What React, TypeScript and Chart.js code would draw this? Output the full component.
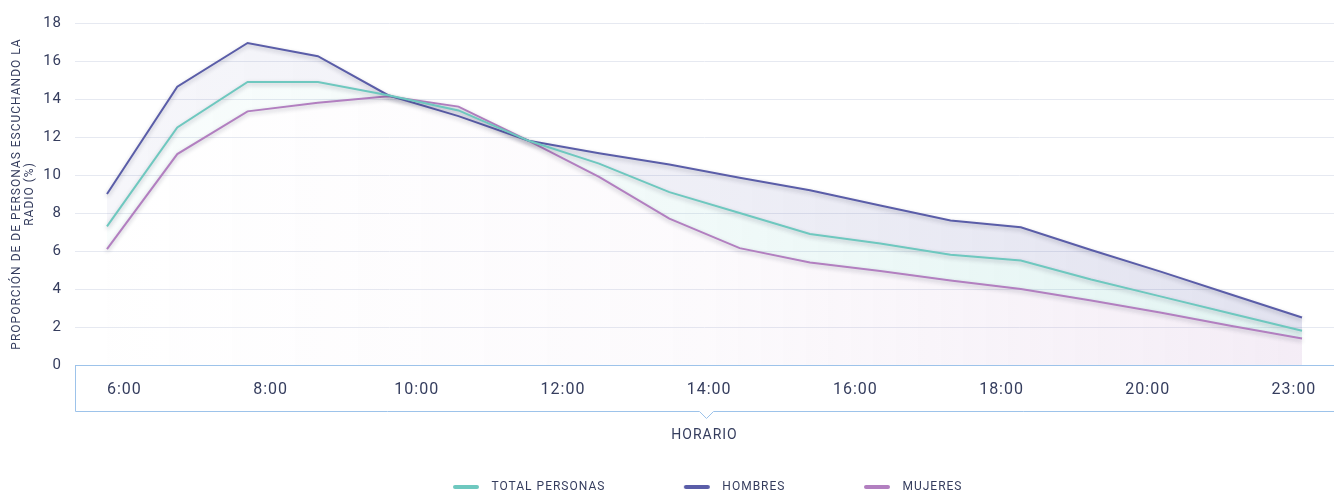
import React, { useEffect, useRef } from 'react';
import { Chart, registerables } from 'chart.js';

Chart.register(...registerables);

// Hourly categories of the data (6:00 .. 23:00)
const hours = ['6:00', '7:00', '8:00', '9:00', '10:00', '11:00', '12:00', '13:00', '14:00', '15:00', '16:00', '17:00', '18:00', '19:00', '20:00', '21:00', '22:00', '23:00'];

// Labels printed in the axis box
const tickLabels = ['6:00', '8:00', '10:00', '12:00', '14:00', '16:00', '18:00', '20:00', '23:00'];

const totalPersonas = [7.3, 12.5, 14.9, 14.9, 14.2, 13.4, 11.8, 10.6, 9.1, 8.0, 6.9, 6.4, 5.8, 5.5, 4.5, 3.6, 2.7, 1.8];
const hombres = [9.0, 14.65, 16.95, 16.25, 14.2, 13.1, 11.8, 11.15, 10.55, 9.85, 9.2, 8.4, 7.6, 7.25, 6.05, 4.9, 3.7, 2.5];
const mujeres = [6.1, 11.1, 13.35, 13.8, 14.15, 13.6, 11.8, 9.9, 7.7, 6.15, 5.4, 4.95, 4.45, 4.0, 3.4, 2.75, 2.05, 1.4];

const yTitle = ['PROPORCIÓN DE DE PERSONAS ESCUCHANDO LA', 'RADIO (%)'];
const xTitle = 'HORARIO';

const TEAL = '#6ec8bf';
const NAVY = '#5a5da8';
const PINK = '#b27fc0';
const TEXT = '#353d5e';
const GRID = '#e6e9f1';
const BOX = '#9dc3ea';
const FONT = 'Roboto';

const toPoints = (vals: number[]) => vals.map((y, i) => ({ x: i, y, hour: hours[i] }));

function makeMarker(color: string) {
  const c = document.createElement('canvas');
  c.width = 28;
  c.height = 6;
  const g = c.getContext('2d')!;
  g.strokeStyle = color;
  g.lineWidth = 4;
  g.lineCap = 'round';
  g.beginPath();
  g.moveTo(3, 3);
  g.lineTo(25, 3);
  g.stroke();
  return c;
}

function gradient(rgb: string, a0: number, aMid: number, a1: number) {
  return (ctx: any) => {
    const chart = ctx.chart;
    const area = chart.chartArea;
    if (!area) return `rgba(${rgb},${a1})`;
    const g = chart.ctx.createLinearGradient(area.left, 0, area.right, 0);
    g.addColorStop(0, `rgba(${rgb},${a0})`);
    g.addColorStop(0.5, `rgba(${rgb},${aMid})`);
    g.addColorStop(1, `rgba(${rgb},${a1})`);
    return g;
  };
}

const spacingPlugin = {
  id: 'letterSpacing',
  beforeUpdate(chart: any) { chart.ctx.letterSpacing = '1px'; },
  beforeLayout(chart: any) { chart.ctx.letterSpacing = '1px'; },
  beforeDraw(chart: any) { chart.ctx.letterSpacing = '1px'; },
};

const shadowPlugin = {
  id: 'lineShadow',
  beforeDatasetDraw(chart: any) {
    const c = chart.ctx;
    c.save();
    c.shadowColor = 'rgba(30,30,60,0.28)';
    c.shadowBlur = 4;
    c.shadowOffsetY = 2;
  },
  afterDatasetDraw(chart: any) {
    chart.ctx.restore();
  },
};

const boxPlugin = {
  id: 'axisBox',
  afterDraw(chart: any) {
    const s = chart.scales.x2;
    const c = chart.ctx;
    const top = s.top;
    const bottom = Math.round(s.top + 46) + 0.5;
    const left = Math.round(s.left) + 0.5;
    const right = s.right;
    const cx = Math.round((s.left + s.right) / 2) + 1.5;
    c.save();
    c.strokeStyle = BOX;
    c.lineWidth = 1;
    c.beginPath();
    c.moveTo(left, top);
    c.lineTo(left, bottom);
    c.lineTo(cx - 7, bottom);
    c.lineTo(cx, bottom + 7);
    c.lineTo(cx + 7, bottom);
    c.lineTo(right, bottom);
    c.stroke();
    c.restore();
  },
};

export default function App() {
  const ref = useRef<HTMLCanvasElement>(null);

  useEffect(() => {
    const canvas = ref.current!;
    const markers = [makeMarker(TEAL), makeMarker(NAVY), makeMarker(PINK)];
    const chart = new Chart(canvas, {
      type: 'line',
      data: {
        datasets: [
          {
            label: 'TOTAL PERSONAS',
            data: toPoints(totalPersonas),
            borderColor: TEAL,
            backgroundColor: gradient('110,200,191', 0.04, 0.1, 0.2),
            fill: 2,
          },
          {
            label: 'HOMBRES',
            data: toPoints(hombres),
            borderColor: NAVY,
            backgroundColor: gradient('90,93,168', 0.05, 0.1, 0.18),
            fill: 0,
          },
          {
            label: 'MUJERES',
            data: toPoints(mujeres),
            borderColor: PINK,
            backgroundColor: gradient('178,127,192', 0.0, 0.04, 0.15),
            fill: 'origin',
          },
        ] as any,
      },
      options: {
        responsive: false,
        animation: false,
        devicePixelRatio: 1,
        layout: { padding: { top: 23, left: 0, right: 0, bottom: 0 } },
        elements: {
          point: { radius: 0, hoverRadius: 0 },
          line: { borderWidth: 2, tension: 0 },
        },
        plugins: {
          filler: { drawTime: 'beforeDatasetsDraw' },
          tooltip: { enabled: false },
          legend: {
            position: 'bottom',
            fullSize: false,
            maxHeight: 86,
            labels: {
              usePointStyle: true,
              pointStyleWidth: 39,
              padding: 72,
              color: TEXT,
              font: { family: FONT, size: 12 },
              generateLabels: (ch: any) =>
                ch.data.datasets.map((ds: any, i: number) => ({
                  text: ds.label,
                  fillStyle: ds.borderColor,
                  strokeStyle: ds.borderColor,
                  lineWidth: 0,
                  pointStyle: markers[i],
                  hidden: false,
                  datasetIndex: i,
                  fontColor: TEXT,
                })),
            },
          },
        } as any,
        scales: {
          x: {
            type: 'linear',
            min: -0.455,
            max: 17.455,
            display: false,
          },
          x2: {
            type: 'linear',
            position: 'bottom',
            min: -0.338,
            max: 8.274,
            afterBuildTicks: (s: any) => {
              s.ticks = tickLabels.map((_, j) => ({ value: j }));
            },
            afterFit: (s: any) => {
              s.height = 44;
            },
            grid: { display: false, drawTicks: false },
            border: { display: true, color: BOX, width: 1 },
            ticks: {
              autoSkip: false,
              maxRotation: 0,
              padding: 15,
              color: TEXT,
              font: { family: FONT, size: 16 },
              callback: (v: any) => tickLabels[v] ?? '',
            },
            title: {
              display: true,
              text: xTitle,
              color: TEXT,
              font: { family: FONT, size: 14 },
              padding: { top: 0, bottom: -35 },
            },
          },
          y: {
            min: 0,
            max: 18,
            ticks: {
              stepSize: 2,
              padding: 13,
              color: TEXT,
              font: { family: FONT, size: 15 },
            },
            grid: { color: GRID, drawTicks: false },
            border: { display: false },
            afterFit: (s: any) => {
              s.width = 75;
            },
            title: {
              display: true,
              text: yTitle,
              color: TEXT,
              font: { family: FONT, size: 12, lineHeight: 1.1 },
              padding: { top: 10, bottom: 0 },
            },
          },
        } as any,
      },
      plugins: [spacingPlugin, shadowPlugin, boxPlugin],
    });
    return () => chart.destroy();
  }, []);

  return (
    <div style={{ position: 'fixed', left: 0, top: 0, width: 1334, height: 495, background: '#ffffff' }}>
      <canvas ref={ref} width={1334} height={495} />
    </div>
  );
}
